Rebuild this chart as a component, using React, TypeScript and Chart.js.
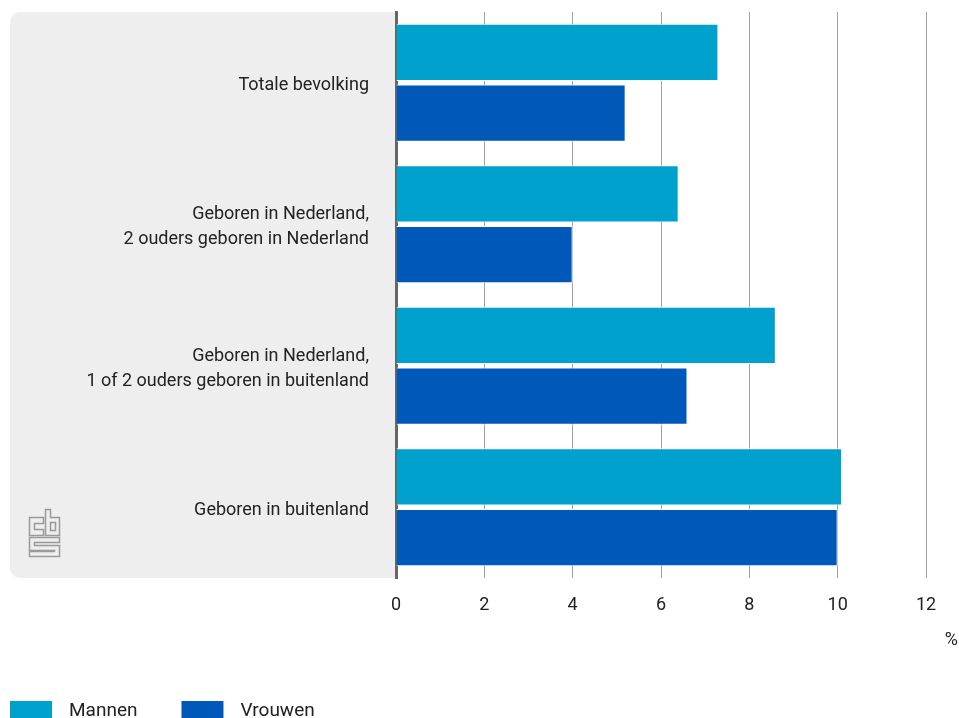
import React, { useEffect, useRef } from "react";
import { Chart, registerables } from "chart.js";

Chart.register(...registerables);

const categories: string[][] = [
  ["Totale bevolking"],
  ["Geboren in Nederland,", "2 ouders geboren in Nederland"],
  ["Geboren in Nederland,", "1 of 2 ouders geboren in buitenland"],
  ["Geboren in buitenland"],
];
const seriesNames = ["Mannen", "Vrouwen"];
const mannen = [7.3, 6.4, 8.6, 10.1];
const vrouwen = [5.2, 4.0, 6.6, 10.0];
const xMin = 0;
const xMax = 12;
const xStep = 2;
const unitLabel = "%";

const COLORS = ["#00a1cd", "#0058b8"];
const FONT = "Roboto, 'Noto Sans', sans-serif";
const TEXT = "#222222";

function drawLogo(ctx: CanvasRenderingContext2D, x: number, y: number) {
  ctx.save();
  ctx.translate(x, y);
  ctx.strokeStyle = "#9a9a9a";
  ctx.lineWidth = 1.5;
  ctx.lineJoin = "miter";
  // c
  ctx.beginPath();
  ctx.moveTo(0.5, 8.5);
  ctx.lineTo(14.5, 8.5);
  ctx.lineTo(14.5, 14.5);
  ctx.lineTo(5.5, 14.5);
  ctx.lineTo(5.5, 20.5);
  ctx.lineTo(14.5, 20.5);
  ctx.lineTo(14.5, 26.5);
  ctx.lineTo(0.5, 26.5);
  ctx.closePath();
  ctx.stroke();
  // b
  ctx.beginPath();
  ctx.moveTo(16.5, 0.5);
  ctx.lineTo(21.5, 0.5);
  ctx.lineTo(21.5, 8.5);
  ctx.lineTo(30.5, 8.5);
  ctx.lineTo(30.5, 26.5);
  ctx.lineTo(16.5, 26.5);
  ctx.closePath();
  ctx.stroke();
  ctx.strokeRect(21.5, 13.5, 5, 8);
  // s
  ctx.beginPath();
  ctx.moveTo(0.5, 28.5);
  ctx.lineTo(30.5, 28.5);
  ctx.lineTo(30.5, 33.5);
  ctx.lineTo(5.5, 33.5);
  ctx.lineTo(5.5, 36.5);
  ctx.lineTo(30.5, 36.5);
  ctx.lineTo(30.5, 47.5);
  ctx.lineTo(0.5, 47.5);
  ctx.lineTo(0.5, 42.5);
  ctx.lineTo(25.5, 42.5);
  ctx.lineTo(25.5, 41.5);
  ctx.lineTo(0.5, 41.5);
  ctx.closePath();
  ctx.stroke();
  ctx.restore();
}

const panelPlugin = {
  id: "panel",
  beforeDraw(chart: any) {
    const { ctx, chartArea } = chart;
    const left = 10;
    const top = chartArea.top;
    const right = chartArea.left;
    const bottom = chartArea.bottom;
    const r = 10;
    ctx.save();
    ctx.fillStyle = "#eeeeee";
    ctx.beginPath();
    ctx.moveTo(left + r, top);
    ctx.lineTo(right, top);
    ctx.lineTo(right, bottom);
    ctx.lineTo(left + r, bottom);
    ctx.arcTo(left, bottom, left, bottom - r, r);
    ctx.lineTo(left, top + r);
    ctx.arcTo(left, top, left + r, top, r);
    ctx.closePath();
    ctx.fill();
    ctx.restore();
    drawLogo(ctx, 29, 509);
  },
  afterDraw(chart: any) {
    const { ctx } = chart;
    ctx.save();
    ctx.fillStyle = TEXT;
    ctx.font = `18px ${FONT}`;
    ctx.textBaseline = "middle";
    ctx.textAlign = "right";
    ctx.fillText(unitLabel, 958, 640);
    // legend
    ctx.font = `19px ${FONT}`;
    ctx.textAlign = "left";
    ctx.textBaseline = "alphabetic";
    let x = 10;
    chart.data.datasets.forEach((ds: any) => {
      ctx.fillStyle = ds.backgroundColor;
      ctx.fillRect(x, 701, 42, 18);
      ctx.fillStyle = TEXT;
      ctx.fillText(ds.label, x + 59, 716);
      const w = ctx.measureText(ds.label).width;
      x += 59 + w + 44;
    });
    ctx.restore();
  },
};

export default function App() {
  const ref = useRef<HTMLCanvasElement | null>(null);
  useEffect(() => {
    if (!ref.current) return;
    const chart = new Chart(ref.current, {
      type: "bar",
      data: {
        labels: categories,
        datasets: [
          {
            label: seriesNames[0],
            data: mannen,
            backgroundColor: COLORS[0],
            borderColor: "#ffffff",
            borderWidth: 1,
          },
          {
            label: seriesNames[1],
            data: vrouwen,
            backgroundColor: COLORS[1],
            borderColor: "#ffffff",
            borderWidth: 1,
          },
        ],
      },
      options: {
        indexAxis: "y",
        animation: false,
        responsive: true,
        maintainAspectRatio: false,
        datasets: { bar: { categoryPercentage: 0.86, barPercentage: 0.94 } },
        layout: { padding: { left: 0, right: 33, top: 12, bottom: 0 } },
        plugins: { legend: { display: false }, tooltip: { enabled: false } },
        scales: {
          x: {
            min: xMin,
            max: xMax,
            afterFit: (scale: any) => {
              scale.height = 140;
              scale.paddingLeft = 0;
              scale.paddingRight = 0;
            },
            ticks: {
              stepSize: xStep,
              padding: 17,
              color: TEXT,
              font: { family: FONT, size: 18 },
              maxRotation: 0,
            },
            grid: { color: "#a0a0a0", lineWidth: 1, drawTicks: false },
            border: { display: false },
          },
          y: {
            afterFit: (scale: any) => {
              scale.width = 396;
              scale.paddingTop = 0;
              scale.paddingBottom = 0;
            },
            ticks: {
              padding: 27,
              labelOffset: 3,
              color: TEXT,
              font: { family: FONT, size: 18, lineHeight: 1.4 },
            },
            grid: { display: false, drawTicks: false },
            border: { display: true, color: "#666666", width: 3 },
          },
        },
      },
      plugins: [panelPlugin],
    } as any);
    return () => chart.destroy();
  }, []);
  return (
    <div style={{ position: "fixed", left: 0, top: 0, width: 959, height: 718, background: "#fff" }}>
      <canvas ref={ref} />
    </div>
  );
}
